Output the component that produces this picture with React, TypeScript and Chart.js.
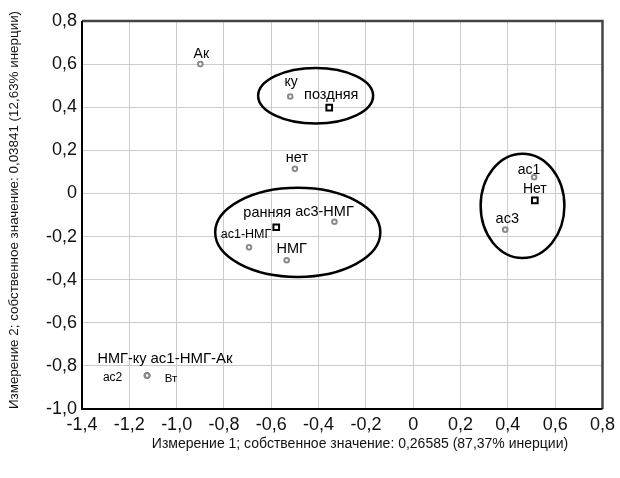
import React, { useEffect, useRef } from 'react';
import { Chart, registerables } from 'chart.js';

Chart.register(...registerables);

const FONT = '"Liberation Sans", Arial, sans-serif';

// Observations (circles)
const circleLabels = ['Ак', 'ку', 'нет', 'ас3-НМГ', 'ас1-НМГ', 'НМГ', 'ас1', 'ас3', 'НМГ-ку', 'ас1-НМГ-Ак', 'ас2', 'Вт'];
const circleX = [-0.9, -0.52, -0.5, -0.333, -0.694, -0.535, 0.511, 0.389, -1.125, -1.125, -1.125, -1.125];
const circleY = [0.6, 0.45, 0.114, -0.131, -0.25, -0.31, 0.075, -0.168, -0.845, -0.845, -0.845, -0.845];

// Categories (squares)
const squareLabels = ['поздняя', 'ранняя', 'Нет'];
const squareX = [-0.355, -0.579, 0.514];
const squareY = [0.398, -0.157, -0.032];

// Group ellipses (data units)
const ellipseCX = [-0.4125, -0.488, 0.462];
const ellipseCY = [0.453, -0.1805, -0.0575];
const ellipseRX = [0.243, 0.349, 0.177];
const ellipseRY = [0.129, 0.207, 0.242];

const xTickLabels = ['-1,4', '-1,2', '-1,0', '-0,8', '-0,6', '-0,4', '-0,2', '0', '0,2', '0,4', '0,6', '0,8'];
const yTickLabels = ['-1,0', '-0,8', '-0,6', '-0,4', '-0,2', '0', '0,2', '0,4', '0,6', '0,8'];

const xTitle = 'Измерение 1; собственное значение: 0,26585 (87,37% инерции)';
const yTitle = 'Измерение 2; собственное значение: 0,03841 (12,63% инерции)';

// label placement: [dx, dy(baseline), fontSize]
const circleLabelLayout = [
  [1, -6, 14],
  [1, -10, 14],
  [2, -7, 14.5],
  [-10, -6, 14.5],
  [-3, -9, 12.5],
  [5, -7, 14.5],
  [-5, -3, 14],
  [2, -7, 14.5],
  [-25, -13, 14.5],
  [44.5, -13, 15],
  [-34.5, 5, 12],
  [24, 6, 11.5],
];
const squareLabelLayout = [
  [2, -9, 14.5],
  [-9, -10, 14.5],
  [0, -7, 14],
];

const overlay = {
  id: 'overlay',
  afterDatasetsDraw(chart: any) {
    const ctx = chart.ctx;
    const xs = chart.scales.x;
    const ys = chart.scales.y;
    const area = chart.chartArea;

    // ellipses
    ctx.save();
    ctx.strokeStyle = '#000';
    ctx.lineWidth = 2.5;
    for (let i = 0; i < ellipseCX.length; i++) {
      const cx = xs.getPixelForValue(ellipseCX[i]);
      const cy = ys.getPixelForValue(ellipseCY[i]);
      const rx = Math.abs(xs.getPixelForValue(ellipseCX[i] + ellipseRX[i]) - cx);
      const ry = Math.abs(ys.getPixelForValue(ellipseCY[i] + ellipseRY[i]) - cy);
      ctx.beginPath();
      ctx.ellipse(cx, cy, rx, ry, 0, 0, Math.PI * 2);
      ctx.stroke();
    }
    ctx.restore();

    // labels
    ctx.save();
    ctx.fillStyle = '#000';
    ctx.textAlign = 'center';
    ctx.textBaseline = 'alphabetic';
    const drawSet = (labels: string[], X: number[], Y: number[], layout: number[][]) => {
      for (let i = 0; i < labels.length; i++) {
        const px = xs.getPixelForValue(X[i]);
        const py = ys.getPixelForValue(Y[i]);
        const [dx, dy, fs] = layout[i];
        ctx.font = `${fs}px ${FONT}`;
        ctx.fillText(labels[i], px + dx, py + dy);
      }
    };
    drawSet(circleLabels, circleX, circleY, circleLabelLayout);
    drawSet(squareLabels, squareX, squareY, squareLabelLayout);
    ctx.restore();

    // frame
    ctx.save();
    ctx.lineWidth = 2.5;
    ctx.strokeStyle = '#444';
    ctx.beginPath();
    ctx.moveTo(area.left, area.top);
    ctx.lineTo(area.right, area.top);
    ctx.lineTo(area.right, area.bottom);
    ctx.stroke();
    ctx.lineWidth = 2;
    ctx.strokeStyle = '#000';
    ctx.beginPath();
    ctx.moveTo(area.left, area.top);
    ctx.lineTo(area.left, area.bottom);
    ctx.lineTo(area.right, area.bottom);
    ctx.stroke();
    ctx.restore();

    // axis titles
    ctx.save();
    ctx.fillStyle = '#111';
    ctx.textAlign = 'center';
    ctx.textBaseline = 'middle';
    ctx.font = `14px ${FONT}`;
    ctx.fillText(xTitle, 360, 444);
    ctx.font = `13.4px ${FONT}`;
    ctx.translate(14, 210);
    ctx.rotate(-Math.PI / 2);
    ctx.fillText(yTitle, 0, 0);
    ctx.restore();
  },
};

export default function App() {
  const ref = useRef<HTMLCanvasElement | null>(null);
  useEffect(() => {
    document.body.style.margin = '0';
    const canvas = ref.current!;
    const chart = new Chart(canvas, {
      type: 'scatter',
      data: {
        datasets: [
          {
            label: 'obs',
            data: circleX.map((x, i) => ({ x, y: circleY[i] })),
            pointStyle: 'circle',
            pointRadius: 2.3,
            pointBorderWidth: 2,
            pointBorderColor: '#8a8a8a',
            pointBackgroundColor: '#fff',
          },
          {
            label: 'cat',
            data: squareX.map((x, i) => ({ x, y: squareY[i] })),
            pointStyle: 'rect',
            pointRadius: 4,
            pointBorderWidth: 2,
            pointBorderColor: '#000',
            pointBackgroundColor: '#fff',
          },
        ],
      },
      options: {
        responsive: false,
        animation: false,
        layout: { padding: { top: 21, right: 10, left: 0, bottom: 0 } },
        plugins: { legend: { display: false }, tooltip: { enabled: false } },
        scales: {
          x: {
            type: 'linear',
            min: -1.4,
            max: 0.8,
            afterFit: (s: any) => { s.height = 69; },
            ticks: {
              stepSize: 0.2,
              padding: 5,
              color: '#111',
              font: { family: FONT, size: 18 },
              maxRotation: 0,
              callback: (_v: any, i: number) => xTickLabels[i],
            },
            grid: { color: '#cccccc', lineWidth: 1, drawTicks: false },
            border: { display: false },
          },
          y: {
            type: 'linear',
            min: -1.0,
            max: 0.8,
            afterFit: (s: any) => { s.width = 82; },
            ticks: {
              stepSize: 0.2,
              padding: 5,
              color: '#111',
              font: { family: FONT, size: 18 },
              callback: (_v: any, i: number) => yTickLabels[i],
            },
            grid: { color: '#cccccc', lineWidth: 1, drawTicks: false },
            border: { display: false },
          },
        },
      },
      plugins: [overlay],
    });
    return () => chart.destroy();
  }, []);
  return (
    <div style={{ width: 620, height: 478 }}>
      <canvas ref={ref} width={620} height={478} />
    </div>
  );
}
